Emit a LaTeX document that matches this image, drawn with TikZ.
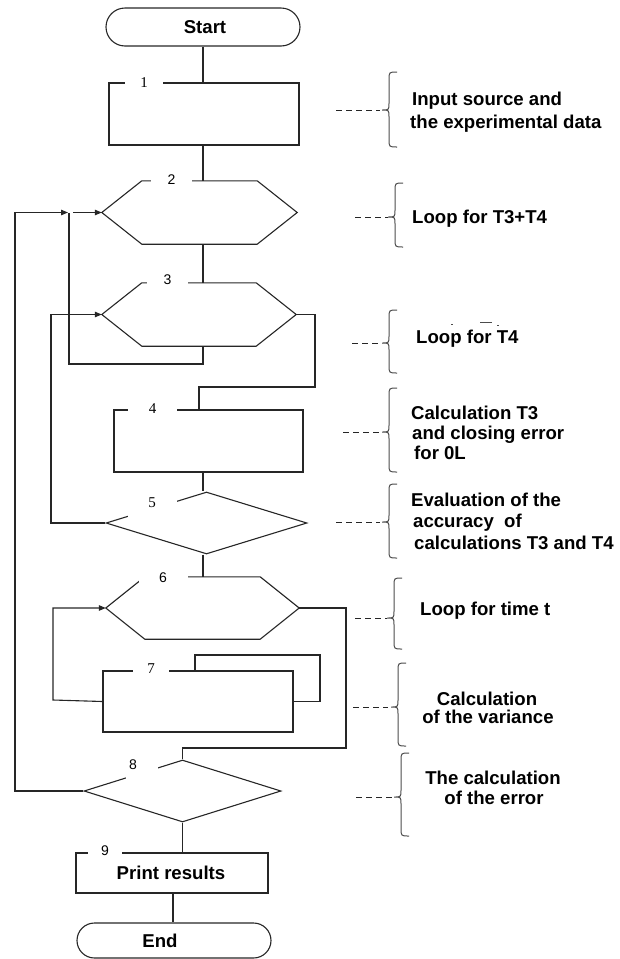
\documentclass[tikz,border=0pt]{standalone}
\usepackage{fontspec}
\setmainfont{Liberation Sans}
\newfontfamily\serifnum{Liberation Serif}
\usetikzlibrary{arrows.meta,shapes.geometric,calc}
\newcommand\mybrace[4]{%
  \draw[brc] (#1+8,#2) .. controls (#1,#2) .. (#1,#2+8) -- (#1,#3-7)
    .. controls (#1,#3) .. (#1-7,#3) .. controls (#1,#3) .. (#1,#3+7)
    -- (#1,#4-8) .. controls (#1,#4) .. (#1+8,#4);}
\newcommand\hexdraw[2]{%
  \draw[ln] (#1.west) -- ($(#1.north west)+(#2,0)$) -- ($(#1.north east)+(-#2,0)$)
    -- (#1.east) -- ($(#1.south east)+(-#2,0)$) -- ($(#1.south west)+(#2,0)$) -- cycle;}
\tikzset{
  ln/.style={draw=black!85, line width=1.1pt},
  arr/.style={ln, -{Triangle[length=7pt,width=5.5pt]}},
  boxn/.style={ln, rectangle, inner sep=0pt},
  hexn/.style={rectangle, inner sep=0pt, draw=none},
  dmd/.style={ln, diamond, inner sep=0pt},
  oval/.style={ln, rectangle, inner sep=0pt},
  num/.style={font=\fontsize{14}{14}\selectfont, inner sep=0pt, fill=white, minimum height=11pt},
  snum/.style={font=\serifnum\fontsize{15}{15}\selectfont, inner sep=0pt, fill=white, minimum height=11pt},
  cover/.style={fill=white, inner sep=0pt, draw=none},
  lbl/.style={font=\fontsize{14}{14}\selectfont, inner sep=0pt},
  slbl/.style={font=\serifnum\fontsize{15}{15}\selectfont, inner sep=0pt},
  ann/.style={font=\bfseries\fontsize{18.6}{20}\selectfont, inner sep=0pt, anchor=base west, text height=13pt, text depth=3.5pt},
  annc/.style={font=\bfseries\fontsize{18.6}{20}\selectfont, inner sep=0pt, anchor=base, text height=13pt, text depth=3pt},
  mtxt/.style={font=\bfseries\fontsize{18.6}{20}\selectfont, inner sep=0pt},
  dsh/.style={draw=black!85, line width=1pt, dash pattern=on 6pt off 4pt},
  brc/.style={draw=black!70, line width=1pt}
}
\begin{document}
\begin{tikzpicture}[x=1pt,y=-1pt]
\useasboundingbox (0,0) rectangle (620,959);
\coordinate (sp) at (203,0);
% terminals
\node[oval, rounded corners=19pt, minimum width=194pt, minimum height=38pt] (st) at (203,27) {};
\node[mtxt] (stt) at (205,27) {Start};
\node[oval, rounded corners=17.5pt, minimum width=194pt, minimum height=35pt] (en) at (174,940.5) {};
\node[mtxt] (ent) at (160,941) {End};
% boxes
\node[boxn, minimum width=190pt, minimum height=62pt] (b1) at (204,114) {};
\node[boxn, minimum width=189pt, minimum height=62pt] (b4) at (208.5,441) {};
\node[boxn, minimum width=190pt, minimum height=61pt] (b7) at (198,701.5) {};
\node[boxn, minimum width=192pt, minimum height=40pt] (b9) at (172,873) {};
\node[mtxt] (b9t) at (171,873) {Print results};
% hexagons
\node[hexn, minimum width=195pt, minimum height=63pt] (h2) at (199.5,212.5) {};
\hexdraw{h2}{40}
\node[hexn, minimum width=194pt, minimum height=63pt] (h3) at (199,314.5) {};
\hexdraw{h3}{40}
\node[hexn, minimum width=193pt, minimum height=62pt] (h6) at (202.5,608) {};
\hexdraw{h6}{39}
% diamonds
\node[dmd, minimum width=201pt, minimum height=62pt] (d5) at (206.5,523) {};
\node[dmd, minimum width=197pt, minimum height=62pt] (d8) at (182.5,791) {};
% number labels with gaps
\node[snum, minimum width=38pt] (n1) at (144,83) {1};
\node[num, minimum width=41pt] (n2) at (171.5,180) {2};
\node[num, minimum width=41pt] (n3) at (167.5,280) {3};
\node[snum, minimum width=49pt] (n4) at (152.5,409) {4};
\node[cover, minimum width=49pt, minimum height=19pt] (g5) at (152.5,508.5) {};
\node[slbl] (n5) at (152,503) {5};
\node[cover, minimum width=49pt, minimum height=14pt] (g6) at (163.5,577) {};
\node[lbl] (n6) at (163,578) {6};
\node[snum, minimum width=36pt] (n7) at (151,669) {7};
\node[cover, minimum width=32pt, minimum height=14pt] (g8) at (142,773) {};
\node[lbl] (n8) at (133,765) {8};
\node[num, minimum width=34pt] (n9) at (105,851) {9};
% main spine connectors
\draw[ln] (st.south -| sp) -- (b1.north -| sp);
\draw[ln] (b1.south -| sp) -- (h2.north -| sp);
\draw[ln] (h2.south -| sp) -- (h3.north -| sp);
\draw[ln] (b4.south -| sp) -- (d5.north -| sp);
\draw[ln] (d5.south -| sp) -- (h6.north -| sp);
\draw[ln] (d8.south) -- (d8.south |- b9.north);
\coordinate (e9) at (173,0);
\draw[ln] (b9.south -| e9) -- (en.north -| e9);
% loops
\coordinate (j2) at (69,212.5);
\coordinate (o8) at (15,791);
\draw[ln] (h3.south -| sp) -- (203,364) -| (j2);
\draw[arr] ($(j2)+(4,0)$) -- (h2.west);
\draw[arr] (d8.west) -- (o8) |- ($(j2)+(-1,0)$);
\coordinate (l5) at (51,523);
\draw[arr] (d5.west) -- (l5) |- (h3.west);
\coordinate (r3) at (315,387);
\coordinate (t4) at (199,387);
\draw[ln] (h3.east) -| (r3) -- (t4) -- (t4 |- b4.north);
\coordinate (l7) at (53,700);
\draw[arr] (b7.west) -- (l7) |- (h6.west);
\coordinate (s7) at (320,655);
\coordinate (t7) at (195,655);
\draw[ln] (b7.east) -| (s7) -- (t7) -- (t7 |- b7.north);
\coordinate (r6) at (346,748);
\coordinate (t8) at (182.5,748);
\draw[ln] (h6.east) -| (r6) -- (t8) -- (d8.north);
% annotations
\coordinate (a1) at (380,110);
\draw[dsh] (336,110) -- (a1);
\mybrace{389}{72}{110}{147}
\node[ann] (t1a) at (412,105.5) {Input source and};
\node[ann] (t1b) at (410,128.5) {the experimental data};

\coordinate (a2) at (388,217);
\draw[dsh] (355,217) -- (a2);
\mybrace{395}{183}{217}{247}
\node[ann] (t2) at (412,223.5) {Loop for T3+T4};

\coordinate (a3) at (382,343);
\draw[dsh] (352,343) -- (a3);
\mybrace{389}{310}{343}{373}
\node[ann] (t3) at (416,343.5) {Loop for T4};
\draw[black!70, line width=1pt] (451,324) -- (453,324);
\draw[black!70, line width=1pt] (480,322) -- (492,322);
\draw[black!70, line width=1pt] (497,325) -- (499,325);

\coordinate (a4) at (382,432);
\draw[dsh] (343,432) -- (a4);
\mybrace{389}{388}{432}{472}
\node[ann] (t4a) at (411,419.5) {Calculation T3};
\node[ann] (t4b) at (412,439.5) {and closing error};
\node[ann] (t4c) at (414,459.5) {for 0L};

\coordinate (a5) at (380,522);
\draw[dsh] (336,522) -- (a5);
\mybrace{389}{484}{522}{558}
\node[ann] (t5a) at (411,506.5) {Evaluation of the};
\node[ann] (t5b) at (413,527.5) {accuracy\ \ of};
\node[ann] (t5c) at (414,549.5) {calculations T3 and T4};

\coordinate (a6) at (387,618);
\draw[dsh] (355,618) -- (a6);
\mybrace{394}{578}{618}{649}
\node[ann] (t6) at (420,615.5) {Loop for time t};

\coordinate (a7) at (388,707);
\draw[dsh] (353,707) -- (a7);
\mybrace{398}{663}{707}{746}
\node[annc] (t7a) at (487,705.5) {Calculation};
\node[annc] (t7b) at (488,723) {of the variance};

\coordinate (a8) at (392,797);
\draw[dsh] (356,797) -- (a8);
\mybrace{401}{753}{797}{836}
\node[annc] (t8a) at (493,784.5) {The calculation};
\node[annc] (t8b) at (494,804.5) {of the error};
\end{tikzpicture}
\end{document}
